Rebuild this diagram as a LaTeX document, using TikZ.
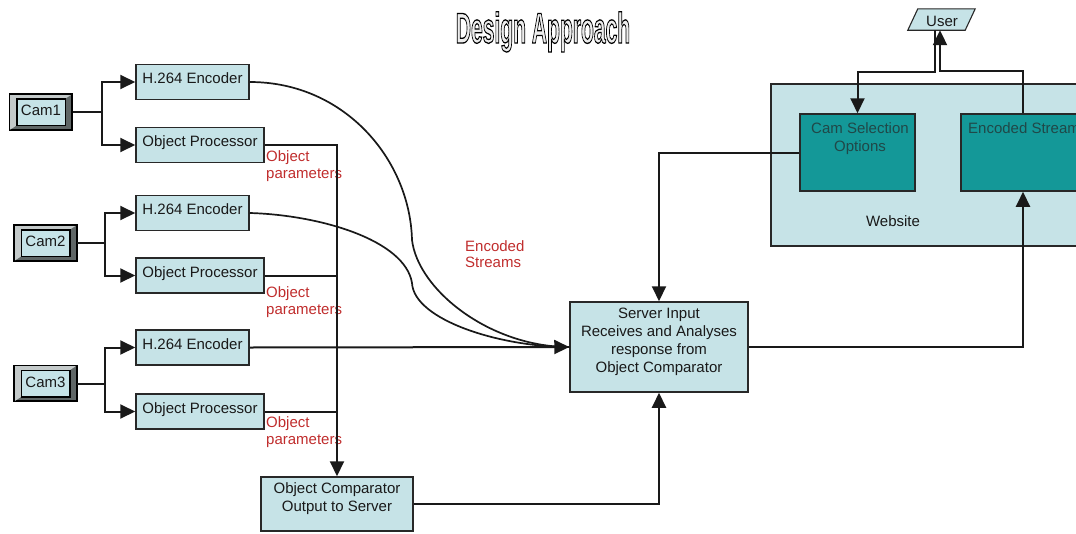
\documentclass[tikz,border=0pt]{standalone}
\usepackage{fontspec}
\setmainfont{Liberation Sans}
\usetikzlibrary{arrows.meta}

\definecolor{paleblue}{RGB}{198,227,231}
\definecolor{tealfill}{RGB}{20,152,152}
\definecolor{tealink}{RGB}{32,72,72}
\definecolor{ink}{RGB}{25,25,25}
\definecolor{boxline}{RGB}{40,40,40}
\definecolor{labelred}{RGB}{192,45,45}
\definecolor{bevlight}{RGB}{196,202,202}
\definecolor{bevdark}{RGB}{95,102,102}

% outlined lettering for the heading: pale fill, dark stroke
\newcommand\hollowtext[1]{%
  \special{pdf:literal direct 2 Tr 1.3 w 0 0 0 RG 0.93 g}#1\special{pdf:literal direct 0 Tr 0 g}}

\tikzset{
  box/.style={draw=boxline, line width=1.5pt, fill=paleblue, inner sep=0pt},
  tbox/.style={draw=boxline, line width=1.5pt, fill=tealfill, inner sep=0pt},
  txt/.style={font=\fontsize{15}{18}\selectfont, text=ink, inner sep=0pt, align=center},
  tealtxt/.style={txt, text=tealink},
  redtxt/.style={font=\fontsize{15}{17}\selectfont, text=labelred, inner sep=0pt, align=left, anchor=west},
  wire/.style={draw=ink, line width=2pt},
  flow/.style={wire, -{Triangle[length=15pt,width=14pt]}},
  stream/.style={draw=ink, line width=1.7pt},
  camouter/.style={draw=black, line width=1.2pt, fill=bevdark, inner sep=0pt, minimum width=62pt, minimum height=35pt},
  caminner/.style={draw=black, line width=1pt, fill=paleblue, inner sep=0pt, minimum width=48pt, minimum height=26pt},
  enc/.style={box, minimum width=113pt, minimum height=35pt},
  proc/.style={box, minimum width=128pt, minimum height=35pt},
}

% a bevelled camera button: name, x, y, label
\newcommand\camerabutton[4]{%
  \node[camouter] (#1) at (#2,#3) {};
  \node[caminner] (#1in) at (#2,#3) {};
  \fill[bevlight] (#1.north west) -- (#1.north east) -- (#1in.north east)
     -- (#1in.north west) -- (#1in.south west) -- (#1.south west) -- cycle;
  \draw[black, line width=1.2pt] (#1.north west) rectangle (#1.south east);
  \draw[black, line width=1pt] (#1in.north west) rectangle (#1in.south east);
  \node[txt, anchor=base] (#1lbl) at (#2,#3+3.5) {#4};
}

\begin{document}
\begin{tikzpicture}[x=1pt,y=-1pt]
\useasboundingbox (0,0) rectangle (1076,533);

% ---- title ----
\node[anchor=base, inner sep=0pt] (title) at (543,43)
  {\fontsize{43}{43}\bfseries\scalebox{0.49}[1]{\hollowtext{Design Approach}}};

% ---- website block ----
\node[box, minimum width=330pt, minimum height=162pt] (web) at (936,165) {};
\node[txt, anchor=base] (weblbl) at (893,226) {Website};
\node[tbox, minimum width=115pt, minimum height=77pt] (camsel) at (857.5,152.5) {};
\node[tealtxt] (camsellbl) at (860,139) {Cam Selection\\Options};
\node[tbox, minimum width=140pt, minimum height=77pt] (encs) at (1031,152.5) {};
\node[tealtxt, anchor=base west] (encslbl) at (968,133) {Encoded Stream};

% ---- user ----
\node[inner sep=0pt, minimum width=67pt, minimum height=21pt] (user) at (941.5,19.5) {};
\draw[box, line width=1.1pt] (user.south west) -- ([xshift=10pt]user.north west)
  -- (user.north east) -- ([xshift=-10pt]user.south east) -- cycle;
\node[txt, anchor=base] (userlbl) at (942,26) {User};

% ---- cameras ----
\camerabutton{cam1}{41}{112}{Cam1}
\camerabutton{cam2}{45.5}{243}{Cam2}
\camerabutton{cam3}{45.5}{383.5}{Cam3}

% ---- encoders and processors ----
\node[enc] (h1) at (192.5,82) {};
\node[txt, anchor=base] (h1lbl) at (192.5,83.5) {H.264 Encoder};
\node[proc] (op1) at (200,145) {};
\node[txt, anchor=base] (op1lbl) at (200,146.5) {Object Processor};
\node[enc] (h2) at (192.5,213) {};
\node[txt, anchor=base] (h2lbl) at (192.5,214.5) {H.264 Encoder};
\node[proc] (op2) at (200,275.5) {};
\node[txt, anchor=base] (op2lbl) at (200,277) {Object Processor};
\node[enc] (h3) at (192.5,347.5) {};
\node[txt, anchor=base] (h3lbl) at (192.5,349) {H.264 Encoder};
\node[proc] (op3) at (200,411.5) {};
\node[txt, anchor=base] (op3lbl) at (200,413) {Object Processor};

% ---- comparator and server ----
\node[box, minimum width=152pt, minimum height=54pt] (oc) at (337,504) {};
\node[txt] (oclbl) at (337,499) {Object Comparator\\Output to Server};
\node[box, minimum width=178pt, minimum height=90pt] (server) at (659,347) {};
\node[txt] (serverlbl) at (659,342) {Server Input\\Receives and Analyses\\response from\\Object Comparator};

% ---- red annotations ----
\node[redtxt] (par1) at (266,166.5) {Object\\parameters};
\node[redtxt] (par2) at (266,302) {Object\\parameters};
\node[redtxt] (par3) at (266,432) {Object\\parameters};
\node[redtxt, font=\fontsize{15}{16}\selectfont] (streamslbl) at (465,254) {Encoded\\Streams};

% ---- camera fan-out ----
\coordinate (j1) at (102,112);
\coordinate (j2) at (105,243);
\coordinate (j3) at (105,383.5);
\draw[wire] (cam1.east) -- (j1);
\draw[flow] (j1) |- (h1.west);
\draw[flow] (j1) |- (op1.west);
\draw[wire] (cam2.east) -- (j2);
\draw[flow] (j2) |- (h2.west);
\draw[flow] (j2) |- (op2.west);
\draw[wire] (cam3.east) -- (j3);
\draw[flow] (j3) |- (h3.west);
\draw[flow] (j3) |- (op3.west);

% ---- object parameter bus ----
\draw[flow] (op1.east) -| (oc.north);
\draw[wire] (op2.east) -- (op2.east -| oc.north);
\draw[wire] (op3.east) -- (op3.east -| oc.north);

% ---- encoded streams to server ----
\draw[stream] (h1.east) .. controls (345,82) and (410,160) .. (412,240)
  .. controls (418,290) and (490,347) .. (server.west);
\draw[stream] (h2.east) .. controls (320,215) and (405,240) .. (412,283)
  .. controls (414,320) and (500,347) .. (server.west);
\draw[flow] (h3.east) -- (server.west);

% ---- server links ----
\draw[flow] (oc.east) -| (server.south);
\draw[flow] (camsel.west) -| (server.north);
\draw[flow] (server.east) -| ([xshift=-8pt]encs.south);

% ---- user links ----
\draw[flow] ([xshift=-8pt]encs.north) -- ++(0,-42) -| ([xshift=-1.5pt]user.south);
\draw[flow] ([xshift=-6.5pt]user.south) -- ++(0,42) -| (camsel.north);
\end{tikzpicture}
\end{document}
